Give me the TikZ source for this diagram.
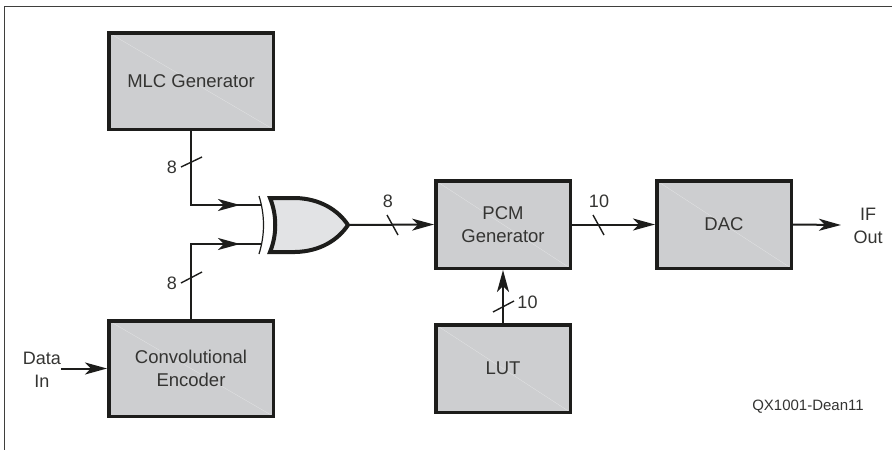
\documentclass[tikz,border=0pt]{standalone}
\usepackage{fontspec}
\setmainfont{Liberation Sans}
\usetikzlibrary{arrows.meta}
\definecolor{boxgray}{HTML}{CDCED0}
\definecolor{gategray}{HTML}{E2E3E5}
\definecolor{inkblack}{HTML}{1D1D1B}
\tikzset{
  block/.style={draw=inkblack, line width=3.5pt, fill=boxgray, align=center, inner sep=0pt,
    font=\fontsize{18.5}{23}\selectfont, text=inkblack!90,
    path picture={\draw[white!45!boxgray, line width=0.3pt]
      (path picture bounding box.north west) -- (path picture bounding box.south east);}},
  sig/.style={draw=inkblack, line width=2pt},
  sigarrow/.style={sig, -{Stealth[length=22pt, width=12pt, inset=6pt]}},
  tick/.style={draw=inkblack, line width=1.4pt},
  lbl/.style={font=\fontsize{18}{23}\selectfont, text=inkblack!90, inner sep=0pt, align=center}
}
\begin{document}
\begin{tikzpicture}[x=1pt, y=-1pt]

    \useasboundingbox (0, 0) rectangle (892, 450);

    % frame
    \draw[draw=inkblack!85, line width=1pt] (4, 450) -- (4, 6.5) -- (892, 6.5);

    % blocks
    \node[block, minimum width=164.5pt, minimum height=96.5pt] (mlc) at (191, 81) {MLC Generator};
    \node[block, minimum width=164.5pt, minimum height=95.5pt] (enc) at (191, 368.5) {Convolutional\\Encoder};
    \node[block, minimum width=134.5pt, minimum height=87.5pt] (pcm) at (503, 224.5) {PCM\\Generator};
    \node[block, minimum width=134.5pt, minimum height=87.5pt] (lut) at (503, 368.5) {LUT};
    \node[block, minimum width=134.5pt, minimum height=87.5pt] (dac) at (724, 224.5) {DAC};

    % gate
    \draw[draw=inkblack, line width=4pt, fill=gategray, line join=miter]
      (270, 198) -- (295, 198) .. controls (320, 198.5) and (338, 210) .. (348, 225)
      .. controls (338, 240) and (320, 251.5) .. (295, 252) -- (270, 252)
      .. controls (277, 235) and (277, 215) .. (270, 198) -- cycle;
    \draw[draw=inkblack, line width=1.2pt] (259, 196) .. controls (265, 215) and (265, 235) .. (259, 254);
    \coordinate (ina) at (262, 205);
    \coordinate (inb) at (262, 244);
    \coordinate (ina mid) at (240, 205);
    \coordinate (inb mid) at (240, 244);
    \coordinate (ina back) at (210, 205);
    \coordinate (inb back) at (210, 244);
    \coordinate (out) at (349, 225);
    \coordinate (if) at (841, 225);
    \coordinate (data) at (61, 368.5);

    % connectors
    \draw[sig] (mlc.south) |- (ina);
    \draw[sigarrow] (ina back) -- (ina mid);
    \draw[sig] (enc.north) |- (inb);
    \draw[sigarrow] (inb back) -- (inb mid);
    \draw[sigarrow] (out) -- (pcm.west);
    \draw[sigarrow] (pcm.east) -- (dac.west);
    \draw[sigarrow] (lut.north) -- (pcm.south);
    \draw[sigarrow] (dac.east) -- (if);
    \draw[sigarrow] (data) -- (enc.west);

    % bus ticks
    \draw[tick] (181, 167) -- (202, 157);
    \draw[tick] (181, 283) -- (202, 272);
    \draw[tick] (387, 215) -- (398, 235);
    \draw[tick] (593, 215) -- (604, 235);
    \draw[tick] (493, 312) -- (514, 301);

    % labels
    \node[lbl] (w1) at (172, 167) {8};
    \node[lbl] (w2) at (172, 283) {8};
    \node[lbl] (w3) at (388, 201) {8};
    \node[lbl] (w4) at (599, 201) {10};
    \node[lbl] (w5) at (527.5, 302) {10};
    \node[lbl] (dataIn) at (42, 369.5) {Data\\In};
    \node[lbl] (ifOut) at (868, 226) {IF\\Out};
    \node[lbl, font=\fontsize{15}{18}\selectfont] (tag) at (808, 407) {QX1001-Dean11};

\end{tikzpicture}
\end{document}
